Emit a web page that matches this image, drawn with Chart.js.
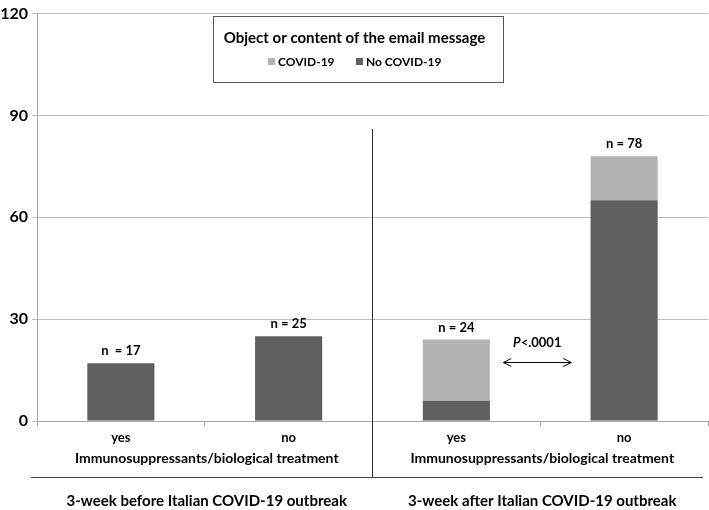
<!DOCTYPE html>
<html>
<head>
<meta charset="utf-8">
<script src="https://cdn.jsdelivr.net/npm/chart.js@4.4.0/dist/chart.umd.min.js"></script>
<style>
  html, body { margin: 0; padding: 0; background: #fff; }
  canvas { display: block; }
</style>
</head>
<body>
<canvas id="myChart" width="709" height="510"></canvas>
<script>
// data
const labels = ["yes", "no", "yes", "no"];
const noCovid = [17, 25, 6, 65];
const covid = [0, 0, 18, 13];
const nLabels = ["n  = 17", "n = 25", "n = 24", "n = 78"];
const groupLabels = ["3-week before Italian COVID-19 outbreak", "3-week after Italian COVID-19 outbreak"];
const axisTitle = "Immunosuppressants/biological treatment";
const legendTitle = "Object or content of the email message";
const yMax = 120;
const yStep = 30;
const pText = "<.0001";
const arrowLevel = 17.5;

const FONT = "Lato";
const DARK = "#5f5f5f";
const LIGHT = "#b3b3b3";

const extras = {
  id: "extras",
  afterDraw(chart) {
    const { ctx, scales: { x, y } } = chart;
    ctx.save();
    ctx.fillStyle = "#000";
    ctx.textAlign = "center";
    ctx.textBaseline = "middle";

    // n = .. above bars
    ctx.font = "bold 13px " + FONT;
    labels.forEach((_, i) => {
      const top = y.getPixelForValue(noCovid[i] + covid[i]);
      ctx.fillText(nLabels[i], x.getPixelForValue(i), top - 12);
    });

    // double arrow + p value
    const ay = Math.round(y.getPixelForValue(arrowLevel)) + 0.5;
    const mid = (x.getPixelForValue(2) + x.getPixelForValue(3)) / 2 - 3;
    const x0 = mid - 34, x1 = mid + 34;
    ctx.strokeStyle = "#000";
    ctx.lineWidth = 1;
    ctx.beginPath();
    ctx.moveTo(x0, ay); ctx.lineTo(x1, ay);
    ctx.moveTo(x0 + 8, ay - 4); ctx.lineTo(x0, ay); ctx.lineTo(x0 + 8, ay + 4);
    ctx.moveTo(x1 - 8, ay - 4); ctx.lineTo(x1, ay); ctx.lineTo(x1 - 8, ay + 4);
    ctx.stroke();
    ctx.textAlign = "left";
    ctx.font = "italic bold 13px " + FONT;
    const pw = ctx.measureText("P").width;
    ctx.font = "bold 13px " + FONT;
    const rw = ctx.measureText(pText).width;
    const px = mid - (pw + rw) / 2;
    ctx.font = "italic bold 13px " + FONT;
    ctx.fillText("P", px, ay - 20);
    ctx.font = "bold 13px " + FONT;
    ctx.fillText(pText, px + pw, ay - 20);

    // vertical divider between the two periods
    const dx = Math.round((x.getPixelForValue(1) + x.getPixelForValue(2)) / 2) - 0.5;
    ctx.strokeStyle = "#333";
    ctx.beginPath();
    ctx.moveTo(dx, 129); ctx.lineTo(dx, 478);
    ctx.stroke();

    // bottom separator line
    ctx.strokeStyle = "#444";
    ctx.beginPath();
    ctx.moveTo(31, 477.5); ctx.lineTo(703, 477.5);
    ctx.stroke();

    // axis titles and group labels
    ctx.textAlign = "center";
    [0, 1].forEach(g => {
      const cx = (x.getPixelForValue(2 * g) + x.getPixelForValue(2 * g + 1)) / 2 + 2;
      ctx.font = "bold 14px " + FONT;
      ctx.fillText(axisTitle, cx, 458);
      ctx.font = "bold 15px " + FONT;
      ctx.fillText(groupLabels[g], cx, 501);
    });

    // legend box
    const lx = 213.5, ly = 16.5, lw = 290, lh = 66;
    ctx.fillStyle = "#fff";
    ctx.fillRect(lx, ly, lw, lh);
    ctx.strokeStyle = "#555";
    ctx.strokeRect(lx, ly, lw, lh);
    ctx.fillStyle = "#000";
    ctx.font = "bold 15px " + FONT;
    ctx.fillText(legendTitle, lx + lw / 2 - 4, 38);
    ctx.font = "bold 12px " + FONT;
    ctx.textAlign = "left";
    const items = [chart.data.datasets[1], chart.data.datasets[0]];
    let ix = 268;
    items.forEach((ds, k) => {
      ctx.fillStyle = ds.backgroundColor;
      ctx.fillRect(ix, 58, 7, 7);
      ctx.fillStyle = "#000";
      ctx.fillText(ds.label, ix + 10, 62);
      ix = 356;
    });
    ctx.restore();
  }
};

new Chart(document.getElementById("myChart").getContext("2d"), {
  type: "bar",
  data: {
    labels: labels,
    datasets: [
      { label: "No COVID-19", data: noCovid, backgroundColor: DARK, borderWidth: 0 },
      { label: "COVID-19", data: covid, backgroundColor: LIGHT, borderWidth: 0 }
    ]
  },
  options: {
    responsive: false,
    animation: false,
    layout: { padding: { top: 12, right: 1, left: 0, bottom: 0 } },
    plugins: { legend: { display: false }, tooltip: { enabled: false } },
    datasets: { bar: { barPercentage: 0.4, categoryPercentage: 1 } },
    scales: {
      x: {
        stacked: true,
        afterFit: s => { s.height = 89; },
        grid: { offset: true, drawOnChartArea: false, drawTicks: true, tickLength: 5, color: "#a6a6a6" },
        border: { color: "#a6a6a6" },
        ticks: { color: "#000", font: { family: FONT, size: 13, weight: "bold" }, padding: 4 }
      },
      y: {
        stacked: true,
        min: 0,
        max: yMax,
        afterFit: s => { s.width = 37; },
        grid: { color: "#bdbdbd", tickLength: 5 },
        border: { color: "#a6a6a6" },
        ticks: { stepSize: yStep, color: "#000", font: { family: FONT, size: 16, weight: "bold" }, padding: 4 }
      }
    }
  },
  plugins: [extras]
});
</script>
</body>
</html>
